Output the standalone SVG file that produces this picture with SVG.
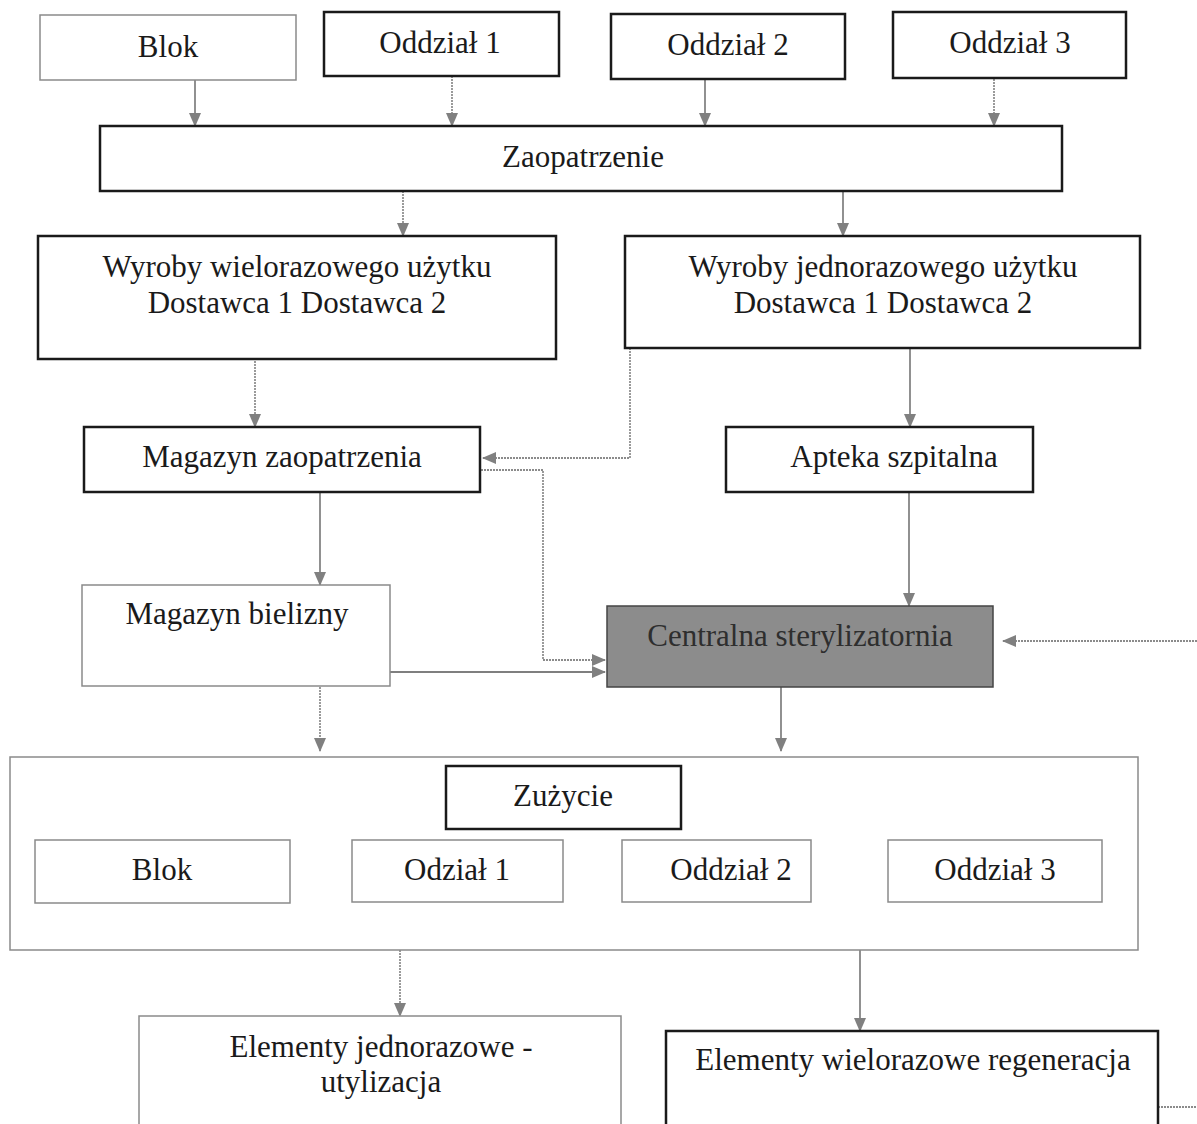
<svg xmlns="http://www.w3.org/2000/svg" width="1197" height="1124" viewBox="0 0 1197 1124">
<style>
text{font-family:"Liberation Serif","Times New Roman",serif;font-size:31px;fill:#1a1a1a;text-anchor:middle}
.b{fill:#fff;stroke:#1a1a1a;stroke-width:2.5}
.g{fill:#fff;stroke:#8a8a8a;stroke-width:1.5}
.c{fill:none;stroke:#555;stroke-width:1.3}
.d{fill:none;stroke:#666;stroke-width:1.3;stroke-dasharray:2 1}
</style>
<defs>
<marker id="ah" viewBox="0 0 14 12" refX="13" refY="6" markerWidth="14" markerHeight="12" markerUnits="userSpaceOnUse" orient="auto">
<path d="M0,0 L14,6 L0,12 Z" fill="#808080"/>
</marker>
</defs>
<rect width="1197" height="1124" fill="#fff"/>
<g id="connectors">
<line class="c" x1="195" y1="80" x2="195" y2="126" marker-end="url(#ah)"/>
<line class="d" x1="452" y1="76" x2="452" y2="126" marker-end="url(#ah)"/>
<line class="c" x1="705" y1="79" x2="705" y2="126" marker-end="url(#ah)"/>
<line class="d" x1="994" y1="73" x2="994" y2="126" marker-end="url(#ah)"/>
<line class="d" x1="403" y1="191" x2="403" y2="236" marker-end="url(#ah)"/>
<line class="c" x1="843" y1="191" x2="843" y2="236" marker-end="url(#ah)"/>
<line class="d" x1="255" y1="352" x2="255" y2="427" marker-end="url(#ah)"/>
<line class="c" x1="910" y1="343" x2="910" y2="427" marker-end="url(#ah)"/>
<polyline class="d" points="783,342 630,342 630,458 483,458" marker-end="url(#ah)"/>
<polyline class="d" points="481,470 543,470 543,660 605,660" marker-end="url(#ah)"/>
<line class="c" x1="390" y1="672" x2="605" y2="672" marker-end="url(#ah)"/>
<line class="c" x1="320" y1="492" x2="320" y2="585" marker-end="url(#ah)"/>
<line class="c" x1="909" y1="492" x2="909" y2="606" marker-end="url(#ah)"/>
<line class="d" x1="1197" y1="641" x2="1003" y2="641" marker-end="url(#ah)"/>
<line class="d" x1="320" y1="681" x2="320" y2="751" marker-end="url(#ah)"/>
<line class="c" x1="781" y1="687" x2="781" y2="751" marker-end="url(#ah)"/>
<line class="d" x1="400" y1="935" x2="400" y2="1016" marker-end="url(#ah)"/>
<line class="c" x1="860" y1="935" x2="860" y2="1031" marker-end="url(#ah)"/>
<line class="d" x1="1158" y1="1107" x2="1197" y2="1107"/>
</g>
<g id="n-blok"><rect class="g" x="40" y="15" width="256" height="65"/><text x="168" y="57">Blok</text></g>
<g id="n-oddzial1"><rect class="b" x="324" y="12" width="235" height="64"/><text x="440" y="53">Oddział 1</text></g>
<g id="n-oddzial2"><rect class="b" x="611" y="14" width="234" height="65"/><text x="728" y="55">Oddział 2</text></g>
<g id="n-oddzial3"><rect class="b" x="893" y="12" width="233" height="66"/><text x="1010" y="53">Oddział 3</text></g>
<g id="n-zaopatrzenie"><rect class="b" x="100" y="126" width="962" height="65"/><text x="583" y="167">Zaopatrzenie</text></g>
<g id="n-wielorazowe"><rect class="b" x="38" y="236" width="518" height="123"/><text x="297" y="277">Wyroby wielorazowego użytku</text><text x="297" y="313">Dostawca 1 Dostawca 2</text></g>
<g id="n-jednorazowe"><rect class="b" x="625" y="236" width="515" height="112"/><text x="883" y="277">Wyroby jednorazowego użytku</text><text x="883" y="313">Dostawca 1 Dostawca 2</text></g>
<g id="n-magazyn-zaop"><rect class="b" x="84" y="427" width="396" height="65"/><text x="282" y="467">Magazyn zaopatrzenia</text></g>
<g id="n-apteka"><rect class="b" x="726" y="427" width="307" height="65"/><text x="894" y="467">Apteka szpitalna</text></g>
<g id="n-magazyn-biel"><rect class="g" x="82" y="585" width="308" height="101"/><text x="237" y="624">Magazyn bielizny</text></g>
<g id="n-central"><rect x="607" y="606" width="386" height="81" fill="#8c8c8c" stroke="#444" stroke-width="1.5"/><text x="800" y="646" style="fill:#2e2e2e">Centralna sterylizatornia</text></g>
<g id="n-zuzycie-group"><rect class="g" x="10" y="757" width="1128" height="193"/></g>
<g id="n-zuzycie"><rect class="b" x="446" y="766" width="235" height="63"/><text x="563" y="806">Zużycie</text></g>
<g id="n-blok2"><rect class="g" x="35" y="840" width="255" height="63"/><text x="162" y="880">Blok</text></g>
<g id="n-odzial1b"><rect class="g" x="352" y="840" width="211" height="62"/><text x="457" y="880">Odział 1</text></g>
<g id="n-oddzial2b"><rect class="g" x="622" y="840" width="189" height="62"/><text x="731" y="880">Oddział 2</text></g>
<g id="n-oddzial3b"><rect class="g" x="888" y="840" width="214" height="62"/><text x="995" y="880">Oddział 3</text></g>
<g id="n-el-jedn"><rect class="g" x="139" y="1016" width="482" height="120"/><text x="381" y="1057">Elementy jednorazowe -</text><text x="381" y="1092">utylizacja</text></g>
<g id="n-el-wiel"><rect class="b" x="666" y="1031" width="492" height="105"/><text x="913" y="1070">Elementy wielorazowe regeneracja</text></g>
</svg>
